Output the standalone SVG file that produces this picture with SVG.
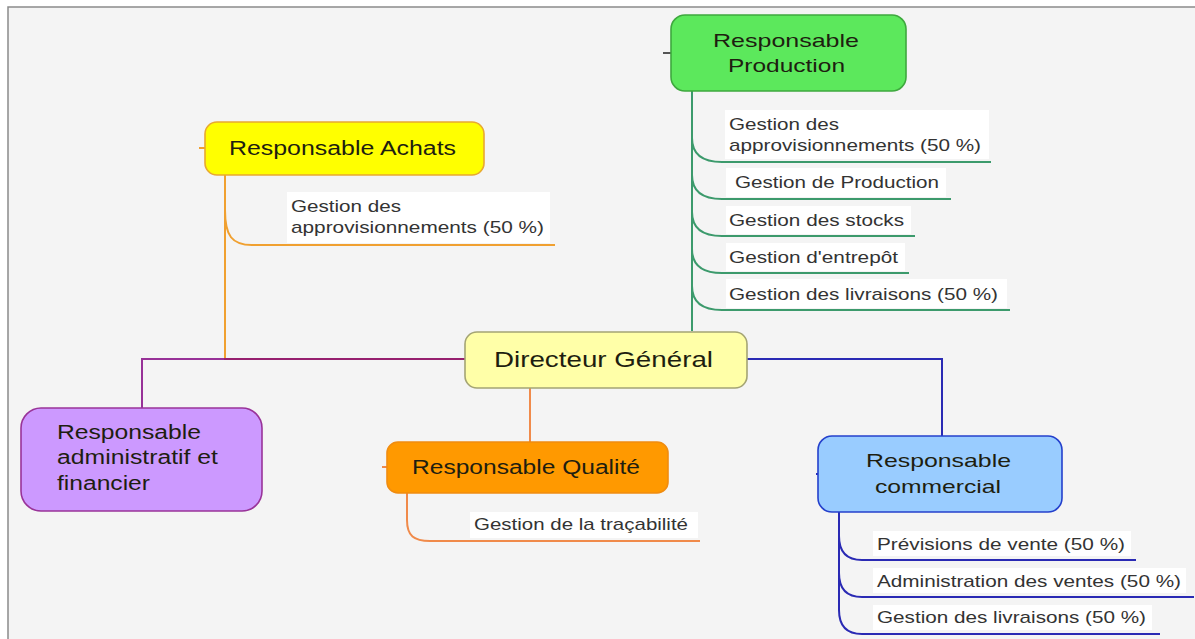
<svg xmlns="http://www.w3.org/2000/svg" width="1195" height="639" viewBox="0 0 1195 639">
<style>
text{font-family:"Liberation Sans",Arial,sans-serif;}
.h{font-size:20px;fill:#1e1e10;}
.s{font-size:17px;fill:#333333;}
.lbl{fill:#ffffff;}
.c{fill:none;stroke-width:2;}
.box{stroke-width:1.6;}
</style>
<rect x="0" y="0" width="1195" height="639" fill="#ffffff"/>
<rect x="8" y="7" width="1187" height="632" fill="#f4f4f4"/>
<path d="M8,639 V7 H1195" fill="none" stroke="#8a8a8a" stroke-width="1.5"/>

<g id="connectors">
  <!-- Achats (orange) -->
  <path class="c" stroke="#f0a030" d="M465,359 H225 V175"/>
  <path class="c" stroke="#f0a030" d="M225,210 C225,236 232,245 252,245 H555"/>
  <path class="c" stroke="#f0a030" d="M199,148 H205"/>
  <!-- Admin (purple) -->
  <path class="c" stroke="#800080" stroke-opacity="0.8" d="M465,359 H142 V408"/>
  <!-- Qualite -->
  <path class="c" stroke="#f08a4a" d="M530,388 V442"/>
  <path class="c" stroke="#f08a4a" d="M407,493 V520 C407,536 414,541 430,541 H700"/>
  <path class="c" stroke="#f08a4a" d="M382,467 H387"/>
  <!-- Production (green) -->
  <path class="c" stroke="#3c9a6c" d="M692,91 V331"/>
  <path class="c" stroke="#3c9a6c" d="M692,138 C692,154 702,162 722,162 H991"/>
  <path class="c" stroke="#3c9a6c" d="M692,175 C692,191 702,199 722,199 H951"/>
  <path class="c" stroke="#3c9a6c" d="M692,212 C692,228 702,236 722,236 H915"/>
  <path class="c" stroke="#3c9a6c" d="M692,249 C692,265 702,273 722,273 H909"/>
  <path class="c" stroke="#3c9a6c" d="M692,286 C692,302 702,310 722,310 H1010"/>
  <path class="c" stroke="#555555" d="M663,53 H671"/>
  <!-- Commercial (blue) -->
  <path class="c" stroke="#2a2ab4" d="M747,359 H942 V436"/>
  <path class="c" stroke="#2a2ab4" d="M839,512 V610 C839,626 846,634 862,634 H1160"/>
  <path class="c" stroke="#2a2ab4" d="M839,536 C839,552 846,560 862,560 H1136"/>
  <path class="c" stroke="#2a2ab4" d="M839,573 C839,589 846,597 862,597 H1194"/>
  <path class="c" stroke="#2a2ab4" d="M816,474 H822"/>
</g>

<g id="directeur">
  <rect class="box" x="465" y="332" width="282" height="56" rx="12" fill="#ffffa8" stroke="#a4a474"/>
  <text x="494" y="367" font-size="22" fill="#1e1e10" textLength="219" lengthAdjust="spacingAndGlyphs">Directeur Général</text>
</g>

<g id="achats">
  <rect class="box" x="205" y="122" width="279" height="53" rx="12" fill="#ffff00" stroke="#e8a830"/>
  <text class="h" x="229" y="155" textLength="227" lengthAdjust="spacingAndGlyphs">Responsable Achats</text>
</g>
<g id="achats-appro">
  <rect class="lbl" x="287" y="192" width="263" height="51"/>
  <text class="s" x="291" y="212" textLength="110" lengthAdjust="spacingAndGlyphs">Gestion des</text>
  <text class="s" x="291" y="233" textLength="253" lengthAdjust="spacingAndGlyphs">approvisionnements (50 %)</text>
</g>

<g id="production">
  <rect class="box" x="671" y="15" width="235" height="76" rx="14" fill="#5ce85c" stroke="#3ea83e"/>
  <text class="h" x="713" y="47" font-size="19" textLength="146" lengthAdjust="spacingAndGlyphs" style="font-size:19px">Responsable</text>
  <text class="h" x="728" y="72" textLength="117" lengthAdjust="spacingAndGlyphs" style="font-size:19px">Production</text>
</g>
<g id="prod-appro">
  <rect class="lbl" x="725" y="110" width="264" height="49"/>
  <text class="s" x="729" y="130" textLength="110" lengthAdjust="spacingAndGlyphs">Gestion des</text>
  <text class="s" x="729" y="151" textLength="252" lengthAdjust="spacingAndGlyphs">approvisionnements (50 %)</text>
</g>
<g id="prod-production">
  <rect class="lbl" x="726" y="168" width="220" height="29"/>
  <text class="s" x="735" y="188" textLength="204" lengthAdjust="spacingAndGlyphs">Gestion de Production</text>
</g>
<g id="prod-stocks">
  <rect class="lbl" x="726" y="206" width="185" height="28"/>
  <text class="s" x="729" y="226" textLength="175" lengthAdjust="spacingAndGlyphs">Gestion des stocks</text>
</g>
<g id="prod-entrepot">
  <rect class="lbl" x="726" y="243" width="179" height="28"/>
  <text class="s" x="729" y="263" textLength="169" lengthAdjust="spacingAndGlyphs">Gestion d'entrepôt</text>
</g>
<g id="prod-livraisons">
  <rect class="lbl" x="726" y="279" width="281" height="29"/>
  <text class="s" x="729" y="300" textLength="269" lengthAdjust="spacingAndGlyphs">Gestion des livraisons (50 %)</text>
</g>

<g id="admin">
  <rect class="box" x="21" y="408" width="241" height="103" rx="20" fill="#cc99ff" stroke="#993399"/>
  <text class="h" x="57" y="439" textLength="144" lengthAdjust="spacingAndGlyphs">Responsable</text>
  <text class="h" x="57" y="464" textLength="161" lengthAdjust="spacingAndGlyphs">administratif et</text>
  <text class="h" x="57" y="490" textLength="93" lengthAdjust="spacingAndGlyphs">financier</text>
</g>

<g id="qualite">
  <rect class="box" x="387" y="442" width="281" height="51" rx="11" fill="#ff9900" stroke="#f08c10"/>
  <text class="h" x="412" y="474" textLength="228" lengthAdjust="spacingAndGlyphs">Responsable Qualité</text>
</g>
<g id="qual-tracabilite">
  <rect class="lbl" x="470" y="512" width="228" height="26"/>
  <text class="s" x="474" y="530" textLength="214" lengthAdjust="spacingAndGlyphs">Gestion de la traçabilité</text>
</g>

<g id="commercial">
  <rect class="box" x="818" y="436" width="244" height="76" rx="14" fill="#99ccff" stroke="#2440cc"/>
  <text class="h" x="866" y="467" textLength="145" lengthAdjust="spacingAndGlyphs" style="font-size:19px">Responsable</text>
  <text class="h" x="875" y="493" textLength="126" lengthAdjust="spacingAndGlyphs" style="font-size:19px">commercial</text>
</g>
<g id="com-previsions">
  <rect class="lbl" x="873" y="531" width="258" height="25"/>
  <text class="s" x="877" y="550" textLength="248" lengthAdjust="spacingAndGlyphs">Prévisions de vente (50 %)</text>
</g>
<g id="com-administration">
  <rect class="lbl" x="873" y="568" width="313" height="25"/>
  <text class="s" x="877" y="587" textLength="304" lengthAdjust="spacingAndGlyphs">Administration des ventes (50 %)</text>
</g>
<g id="com-livraisons">
  <rect class="lbl" x="873" y="605" width="279" height="25"/>
  <text class="s" x="877" y="623" textLength="269" lengthAdjust="spacingAndGlyphs">Gestion des livraisons (50 %)</text>
</g>
</svg>
